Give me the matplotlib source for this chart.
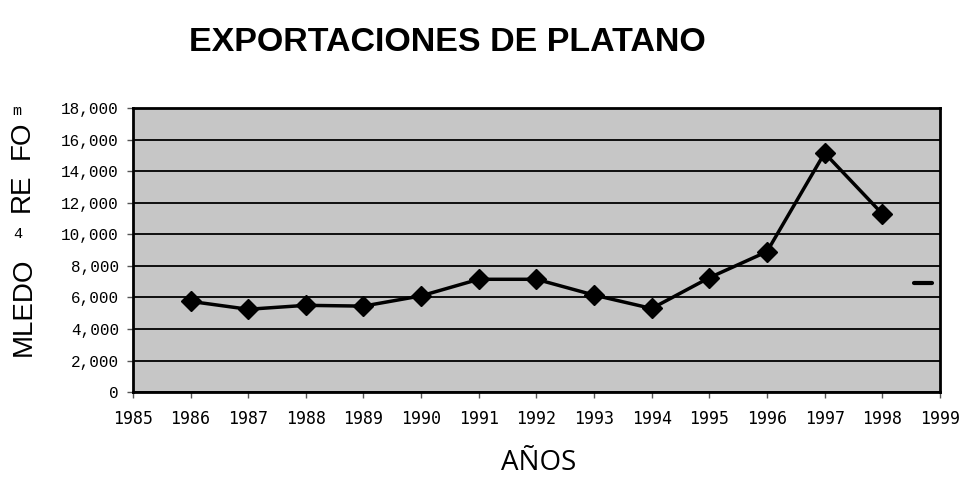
import matplotlib
matplotlib.use("Agg")
import matplotlib.pyplot as plt
from matplotlib.ticker import FuncFormatter, MultipleLocator

years = [1986, 1987, 1988, 1989, 1990, 1991, 1992, 1993, 1994, 1995, 1996, 1997, 1998]
values = [5750, 5250, 5500, 5450, 6100, 7150, 7150, 6150, 5300, 7250, 8900, 15150, 11300]
title = "EXPORTACIONES DE PLATANO"
xlabel = "AÑOS"

fig = plt.figure(figsize=(9.63, 4.8), dpi=100)
ax = fig.add_axes([0.138, 0.183, 0.838, 0.592])
ax.set_facecolor("#c6c6c6")

ax.plot(years, values, color="black", lw=2.5, marker="D", markersize=10,
        markerfacecolor="black", markeredgecolor="black", zorder=3)

ax.set_xlim(1985, 1999)
ax.set_ylim(0, 18000)
ax.xaxis.set_major_locator(MultipleLocator(1))
ax.yaxis.set_major_locator(MultipleLocator(2000))
ax.yaxis.set_major_formatter(FuncFormatter(lambda v, p: f"{int(v):,}"))
ax.grid(axis="y", color="black", lw=1.3)
ax.set_axisbelow(True)
for s in ax.spines.values():
    s.set_linewidth(2)
ax.tick_params(axis="both", direction="out", length=4, width=1, color="#555555")
for lab in ax.get_yticklabels():
    lab.set_fontfamily("Liberation Mono")
    lab.set_fontsize(11.5)
for lab in ax.get_xticklabels():
    lab.set_fontfamily("DejaVu Sans Mono")
    lab.set_fontsize(12)
ax.tick_params(axis="x", pad=9)
ax.tick_params(axis="y", pad=6)

# small legend-like dash at the right
ax.plot([0.968, 0.99], [0.383, 0.383], transform=ax.transAxes, color="black",
        lw=3, solid_capstyle="round", zorder=4)

fig.text(0.465, 0.912, title, ha="center", va="center", fontsize=24.5,
         fontweight="bold", family="Liberation Sans")
fig.text(0.559, 0.035, xlabel, ha="center", va="center", fontsize=20,
         family="Open Sans")

# garbled y-axis label pieces
fig.text(0.025, 0.36, "MLEDO", rotation=90, ha="center", va="center",
         fontsize=20, family="Liberation Sans")
fig.text(0.023, 0.598, "RE", rotation=90, ha="center", va="center",
         fontsize=20, family="Liberation Sans")
fig.text(0.023, 0.708, "FO", rotation=90, ha="center", va="center",
         fontsize=20, family="Liberation Sans")
fig.text(0.019, 0.512, "4", ha="center", va="center", fontsize=11,
         family="Liberation Mono")
fig.text(0.017, 0.769, "m", ha="center", va="center", fontsize=11,
         family="Liberation Mono")

fig.savefig("out.png", dpi=100)
